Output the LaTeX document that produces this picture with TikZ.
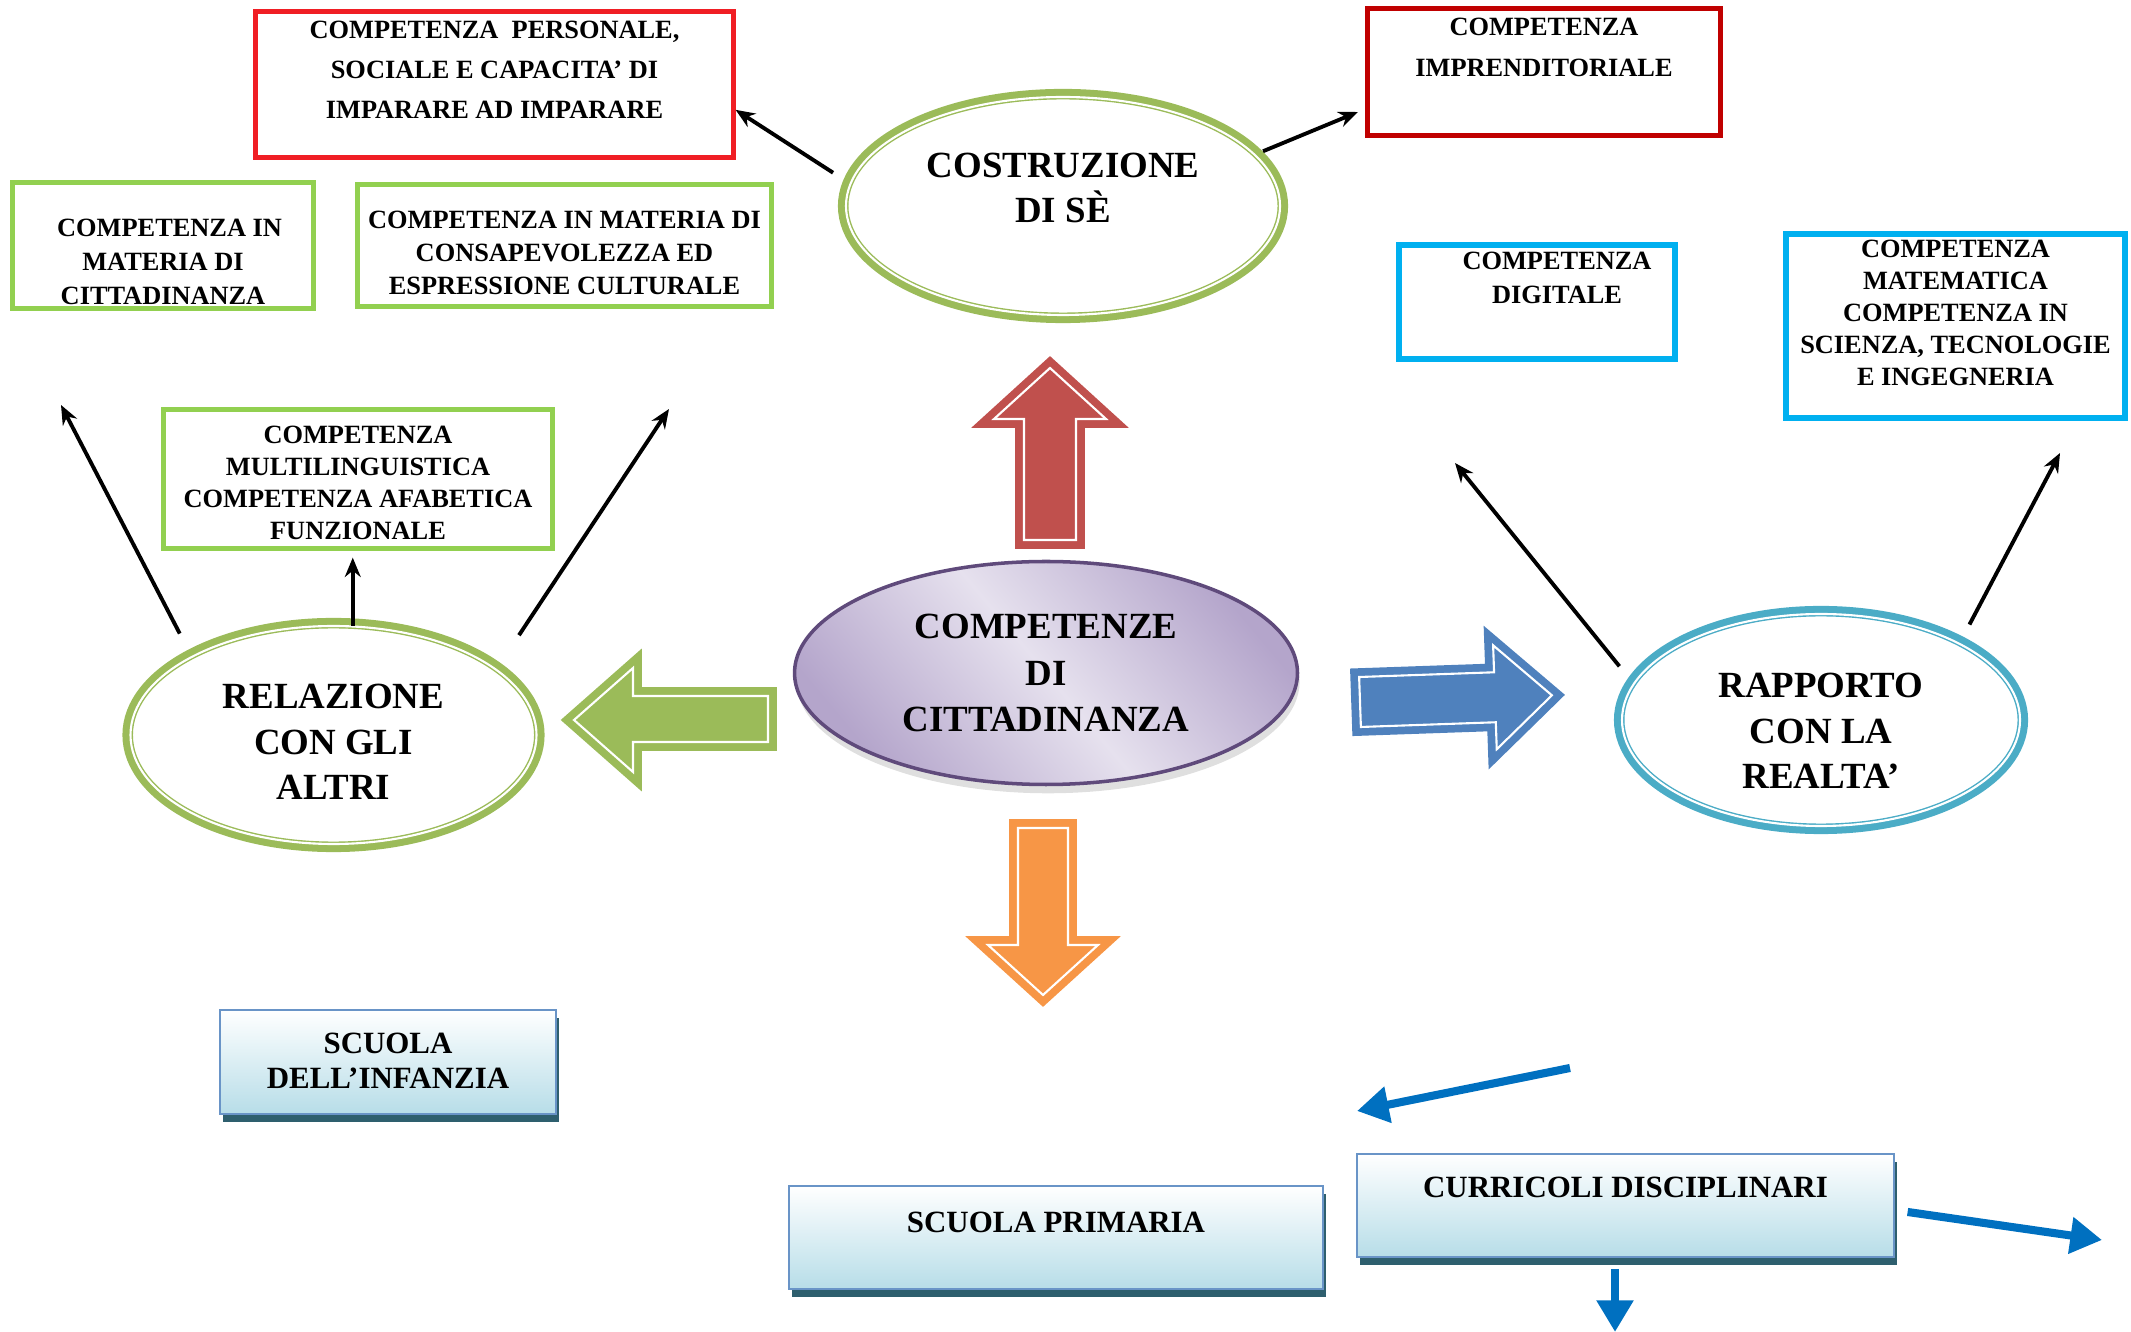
\documentclass[tikz,border=0pt]{standalone}
\usepackage{fontspec}
\setmainfont{Liberation Serif}
\usetikzlibrary{arrows.meta,shapes.geometric,shadows}

\definecolor{verde}{HTML}{9BBB59}
\definecolor{verdechiaro}{HTML}{92D050}
\definecolor{rosso}{HTML}{C0504D}
\definecolor{rossovivo}{HTML}{F01E24}
\definecolor{rossoscuro}{HTML}{C00000}
\definecolor{arancio}{HTML}{F79646}
\definecolor{blu}{HTML}{4F81BD}
\definecolor{azzurro}{HTML}{4BACC6}
\definecolor{ciano}{HTML}{00B0F0}
\definecolor{viola}{HTML}{5F4A7B}
\definecolor{lilla}{HTML}{E6E1EE}
\definecolor{lilla2}{HTML}{B4A5CB}
\definecolor{bluscuro}{HTML}{0070C0}
\definecolor{celeste}{HTML}{B7DDE8}
\definecolor{ombra}{HTML}{2E5F6E}

\tikzset{
  txt/.style={font=\fontsize{7.5}{#1}\selectfont\bfseries, align=center, inner sep=0pt},
  txt/.default=9.3,
  mid/.style={font=\fontsize{8.8}{#1}\selectfont\bfseries, align=center, inner sep=0pt},
  mid/.default=10,
  big/.style={font=\fontsize{10.5}{#1}\selectfont\bfseries, align=center, inner sep=0pt},
  big/.default=13,
  cbox/.style={rectangle, draw=#1, line width=1.2pt, inner sep=0pt},
  ring/.style={ellipse, fill=white, draw=#1, line width=0.4pt, double=white,
    double distance=0.6pt, preaction={draw=#1, line width=4.6pt}, inner sep=0pt},
  school/.style={rectangle, draw=blu!85, line width=0.8pt, top color=white,
    bottom color=celeste, inner sep=0pt,
    drop shadow={shadow xshift=0.9pt, shadow yshift=-2.3pt, fill=ombra, opacity=1}},
  blocco/.style={fill=#1, draw=#1, line width=2.2pt, double=white,
    double distance=0.6pt, line join=miter},
  freccia/.style={-{Stealth[length=5.5pt,width=4.5pt]}, line width=1.1pt},
  bluarrow/.style={-{Triangle[length=9pt,width=10pt]}, line width=2.3pt, draw=bluscuro},
}

\begin{document}
\begin{tikzpicture}

        \useasboundingbox (0,0) rectangle (21.31,-13.32);

        \node[cbox=rossovivo, minimum width=4.78cm, minimum height=1.46cm,
          label={[txt=11.4, yshift=0.145cm]center:{COMPETENZA\ \ PERSONALE,\\SOCIALE E CAPACITA’ DI\\IMPARARE AD IMPARARE}}]
          (pers) at (4.945,-0.845) {};
        \node[cbox=rossoscuro, minimum width=3.53cm, minimum height=1.27cm,
          label={[txt=11.6, yshift=0.245cm]center:{COMPETENZA\\IMPRENDITORIALE}}]
          (imp) at (15.44,-0.72) {};
        \node[cbox=verdechiaro, minimum width=3.01cm, minimum height=1.26cm,
          label={[txt=9.6, yshift=-0.165cm]center:{\ \ COMPETENZA IN\\MATERIA DI\\CITTADINANZA}}]
          (citt) at (1.63,-2.455) {};
        \node[cbox=verdechiaro, minimum width=4.14cm, minimum height=1.22cm,
          label={[txt=9.4, yshift=-0.075cm]center:{COMPETENZA IN MATERIA DI\\CONSAPEVOLEZZA ED\\ESPRESSIONE CULTURALE}}]
          (cons) at (5.645,-2.455) {};
        \node[cbox=ciano, line width=1.8pt, minimum width=2.76cm, minimum height=1.14cm,
          label={[txt=9.6, yshift=0.24cm, xshift=0.2cm]center:{COMPETENZA\\DIGITALE}}]
          (dig) at (15.37,-3.02) {};
        \node[cbox=ciano, line width=1.8pt, minimum width=3.39cm, minimum height=1.84cm,
          label={[txt=9.1, yshift=0.135cm]center:{COMPETENZA\\MATEMATICA\\COMPETENZA IN\\SCIENZA, TECNOLOGIE\\E INGEGNERIA}}]
          (mat) at (19.555,-3.26) {};
        \node[cbox=verdechiaro, minimum width=3.89cm, minimum height=1.39cm,
          label={[txt=9.1, yshift=-0.04cm]center:{COMPETENZA\\MULTILINGUISTICA\\COMPETENZA AFABETICA\\FUNZIONALE}}]
          (multi) at (3.58,-4.79) {};

        \node[ring=verde, minimum width=4.34cm, minimum height=2.18cm,
          label={[big=12.8, yshift=0.185cm]center:{COSTRUZIONE\\DI SÈ}}]
          (se) at (10.63,-2.06) {};
        \node[ring=verde, minimum width=4.06cm, minimum height=2.18cm,
          label={[big=13, yshift=-0.07cm]center:{RELAZIONE\\CON GLI\\ALTRI}}]
          (altri) at (3.335,-7.35) {};
        \node[ring=azzurro, minimum width=3.98cm, minimum height=2.12cm,
          label={[big=13, yshift=-0.11cm]center:{RAPPORTO\\CON LA\\REALTA’}}]
          (realta) at (18.21,-7.20) {};
        \node[ellipse, draw=viola, line width=1pt, top color=lilla2, bottom color=lilla2,
          middle color=lilla, shading angle=-50, minimum width=5.03cm, minimum height=2.23cm,
          drop shadow={shadow xshift=0.6pt, shadow yshift=-2.5pt, opacity=0.25},
          label={[big=13.2]center:{COMPETENZE\\DI\\CITTADINANZA}}]
          (centro) at (10.46,-6.73) {};

        \node[school, minimum width=3.36cm, minimum height=1.04cm,
          label={[mid=10, yshift=0.015cm]center:{SCUOLA\\DELL’INFANZIA}}]
          (inf) at (3.88,-10.62) {};
        \node[school, minimum width=5.34cm, minimum height=1.03cm,
          label={[mid, yshift=0.155cm]center:{SCUOLA PRIMARIA}}]
          (prim) at (10.56,-12.375) {};
        \node[school, minimum width=5.37cm, minimum height=1.03cm,
          label={[mid, yshift=0.185cm]center:{CURRICOLI DISCIPLINARI}}]
          (cur) at (16.255,-12.055) {};

        \draw[blocco=rosso] (10.24,-5.40) -- (10.24,-4.19) -- (9.94,-4.19) -- (10.50,-3.68)
          -- (11.06,-4.19) -- (10.76,-4.19) -- (10.76,-5.40) -- cycle;
        \draw[blocco=arancio] (10.18,-8.28) -- (10.68,-8.28) -- (10.68,-9.45) -- (10.98,-9.45)
          -- (10.43,-9.95) -- (9.88,-9.45) -- (10.18,-9.45) -- cycle;
        \draw[blocco=verde] (7.68,-6.96) -- (6.33,-6.96) -- (6.33,-6.68) -- (5.74,-7.20)
          -- (6.33,-7.72) -- (6.33,-7.42) -- (7.68,-7.42) -- cycle;
        \begin{scope}[shift={(13.60,-7.02)}, rotate=2]
          \draw[blocco=blu] (0,0.25) -- (1.35,0.25) -- (1.35,0.52) -- (1.92,0)
            -- (1.35,-0.52) -- (1.35,-0.25) -- (0,-0.25) -- cycle;
        \end{scope}

        \coordinate (imp-in)   at (13.58,-1.12);
        \coordinate (altri-sx) at (0.61,-4.05);
        \coordinate (altri-dx) at (6.69,-4.09);
        \coordinate (realta-sx) at (14.55,-4.63);
        \coordinate (realta-dx) at (20.60,-4.53);
        \coordinate (b1) at (15.70,-10.68);
        \coordinate (b2) at (13.57,-11.11);
        \coordinate (cur-out)  at (21.02,-12.40);
        \coordinate (cur-down) at (16.15,-13.32);

        \begin{scope}[every edge/.style={draw, freccia}]
          \path (se.174)      edge[shorten <=5.7pt] (pers.-6.3);
          \path (se.15.2)     edge[shorten <=2.4pt] (imp-in);
          \path (altri.151.6) edge[shorten <=7.3pt] (altri-sx);
          \path (altri.80)    edge[shorten >=2pt] (altri.80 |- multi.south);
          \path (altri.22.2)  edge[shorten <=11.6pt] (altri-dx);
          \path (realta.169.3) edge[shorten <=6.3pt] (realta-sx);
          \path (realta.29)   edge[shorten <=6pt] (realta-dx);
        \end{scope}

        \begin{scope}[every edge/.style={draw, bluarrow}]
          \path (b1) edge (b2);
          \path (cur.-1.6) edge[shorten <=3.5pt] (cur-out);
          \path (cur.south -| cur-down) edge[shorten <=3pt] (cur-down);
        \end{scope}

      \end{tikzpicture}
\end{document}
